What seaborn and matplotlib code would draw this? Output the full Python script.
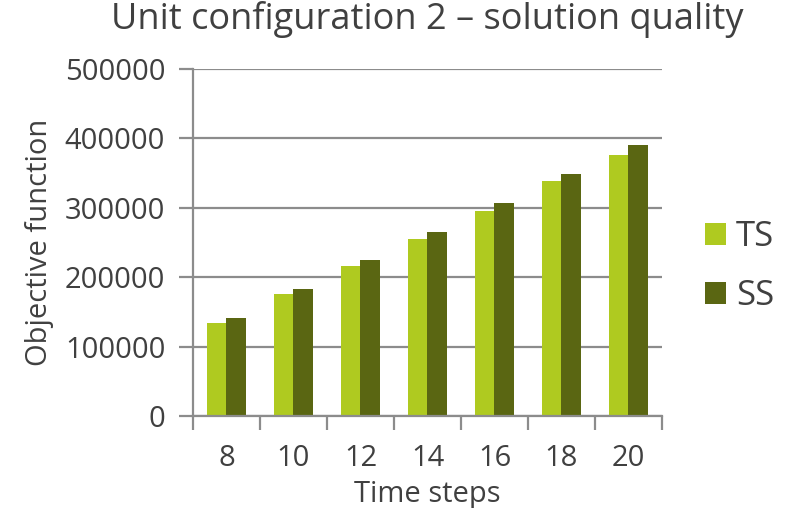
import matplotlib
matplotlib.use("Agg")
import matplotlib.pyplot as plt
import seaborn as sns
import pandas as pd
from matplotlib.ticker import FixedLocator

categories = ["8", "10", "12", "14", "16", "18", "20"]
ts_values = [134600, 176000, 216800, 255800, 295200, 338900, 376000]
ss_values = [141800, 183700, 225500, 265900, 307200, 349000, 389900]
series_names = ["TS", "SS"]
y_ticks = [0, 100000, 200000, 300000, 400000, 500000]

df = pd.DataFrame({
    "Time steps": categories * 2,
    "value": ts_values + ss_values,
    "series": [series_names[0]] * len(categories) + [series_names[1]] * len(categories),
})

sns.set_theme(style="white")
plt.rcParams["font.family"] = ["Open Sans", "DejaVu Sans"]
text_color = "#404040"
grid_color = "#8c8c8c"

fig = plt.figure(figsize=(7.89, 5.08), dpi=100)
ax = fig.add_axes([0.2446, 0.181, 0.5944, 0.683])

sns.barplot(data=df, x="Time steps", y="value", hue="series",
            palette=["#AFCA20", "#5A6612"], width=0.58, ax=ax,
            order=categories, hue_order=series_names, saturation=1,
            edgecolor="none", linewidth=0)

ax.set_ylim(0, 500000)
ax.set_xlim(-0.5, len(categories) - 0.5)
ax.set_yticks(y_ticks)
ax.set_yticklabels([str(v) for v in y_ticks])
ax.yaxis.grid(True, color=grid_color, linewidth=1.6)
ax.set_axisbelow(True)
for s in ["top", "right"]:
    ax.spines[s].set_visible(False)
for s in ["left", "bottom"]:
    ax.spines[s].set_color(grid_color)
    ax.spines[s].set_linewidth(1.6)

ax.tick_params(axis="y", which="major", length=10, width=1.6, color=grid_color,
               labelsize=21, labelcolor=text_color, pad=10, left=True)
ax.tick_params(axis="x", which="major", length=0, labelsize=21,
               labelcolor=text_color, pad=20)
ax.xaxis.set_minor_locator(FixedLocator([i - 0.5 for i in range(len(categories) + 1)]))
ax.tick_params(axis="x", which="minor", length=10, width=1.6, color=grid_color,
               bottom=True, direction="out")

ax.set_xlabel("Time steps", fontsize=21, color=text_color, labelpad=5)
ax.set_ylabel("Objective function", fontsize=21, color=text_color, labelpad=8)
ax.set_title("Unit configuration 2 \u2013 solution quality", fontsize=26,
             color=text_color, pad=29)

handles, labels = ax.get_legend_handles_labels()
ax.legend(handles, labels, loc="center left", bbox_to_anchor=(1.025, 0.43),
          frameon=False, fontsize=25, labelcolor=text_color,
          handlelength=0.6, handleheight=0.6, handletextpad=0.3,
          labelspacing=0.72)

fig.savefig("out.png", dpi=100)
